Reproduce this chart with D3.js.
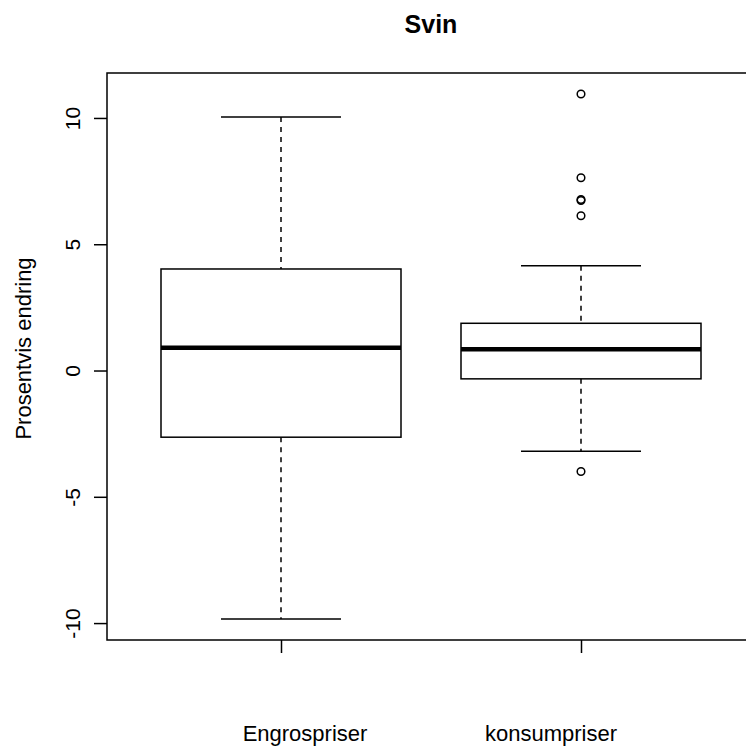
<!DOCTYPE html>
<html>
<head>
<meta charset="utf-8">
<script src="https://cdn.jsdelivr.net/npm/d3@7"></script>
<style>
  body { margin: 0; background: #fff; }
  svg { font-family: "Liberation Sans", Arial, sans-serif; }
</style>
</head>
<body>
<div id="chart"></div>
<script>
// data
const categories = ["Engrospriser", "konsumpriser"];
const whiskerLow = [-9.84, -3.2];
const q1 = [-2.64, -0.33];
const medians = [0.9, 0.84];
const q3 = [4.02, 1.87];
const whiskerHigh = [10.04, 4.15];
const outliers = [[], [10.95, 7.63, 6.73, 6.77, 6.13, -4.0]];
const yTicks = [-10, -5, 0, 5, 10];
const labelPos = [1.08, 1.9];   // where the category names sit

const width = 746, height = 749;

const svg = d3.select("#chart").append("svg")
    .attr("width", width)
    .attr("height", height);

svg.append("rect").attr("width", width).attr("height", height).attr("fill", "#fff");

// escalas
const x = d3.scaleLinear([0.42, 2.58], [107, 755]);
const y = d3.scaleLinear([-10.67, 11.78], [640, 73]);

// marco del plot
svg.append("rect")
    .attr("x", x(0.42)).attr("y", y(11.78))
    .attr("width", x(2.58) - x(0.42)).attr("height", y(-10.67) - y(11.78))
    .attr("fill", "none").attr("stroke", "#000").attr("stroke-width", 1.5);

// eje y
const gy = svg.append("g")
    .attr("transform", `translate(${x(0.42)},0)`)
    .call(d3.axisLeft(y).tickValues(yTicks).tickSize(13).tickSizeOuter(0)
        .tickFormat(d => String(d)));
gy.select(".domain").remove();
gy.selectAll("line").attr("stroke-width", 1.5);
gy.selectAll("text")
    .attr("transform", "rotate(-90)")
    .attr("x", 0).attr("y", -27).attr("dy", 0)
    .attr("text-anchor", "middle")
    .attr("font-size", 21).attr("font-family", null).attr("fill", "#000");

// eje x, solo marcas
const gx = svg.append("g")
    .attr("transform", `translate(0,${y(-10.67)})`)
    .call(d3.axisBottom(x).tickValues([1, 2]).tickSize(13).tickSizeOuter(0).tickFormat(""));
gx.select(".domain").remove();
gx.selectAll("line").attr("stroke-width", 1.5);

// etiquetas de categoría
svg.selectAll(".cat")
    .data(categories)
    .enter().append("text")
    .attr("class", "cat")
    .attr("x", (d, i) => x(labelPos[i]))
    .attr("y", 741)
    .attr("text-anchor", "middle")
    .attr("font-size", 22)
    .text(d => d);

// cajas
const boxes = svg.selectAll(".box")
    .data(categories.map((c, i) => ({ c, i, lo: whiskerLow[i], q1: q1[i], med: medians[i], q3: q3[i], hi: whiskerHigh[i] })))
    .enter().append("g")
    .attr("class", "box");

const hw = 0.4, cw = 0.2;

// bigotes discontinuos
boxes.append("line")
    .attr("x1", d => x(d.i + 1)).attr("x2", d => x(d.i + 1))
    .attr("y1", d => y(d.hi)).attr("y2", d => y(d.q3))
    .attr("stroke", "#000").attr("stroke-width", 1.5).attr("stroke-dasharray", "5,5");
boxes.append("line")
    .attr("x1", d => x(d.i + 1)).attr("x2", d => x(d.i + 1))
    .attr("y1", d => y(d.q1)).attr("y2", d => y(d.lo))
    .attr("stroke", "#000").attr("stroke-width", 1.5).attr("stroke-dasharray", "5,5");
// topes
boxes.append("line")
    .attr("x1", d => x(d.i + 1 - cw)).attr("x2", d => x(d.i + 1 + cw))
    .attr("y1", d => y(d.hi)).attr("y2", d => y(d.hi))
    .attr("stroke", "#000").attr("stroke-width", 1.5);
boxes.append("line")
    .attr("x1", d => x(d.i + 1 - cw)).attr("x2", d => x(d.i + 1 + cw))
    .attr("y1", d => y(d.lo)).attr("y2", d => y(d.lo))
    .attr("stroke", "#000").attr("stroke-width", 1.5);
// caja
boxes.append("rect")
    .attr("x", d => x(d.i + 1 - hw))
    .attr("width", d => x(d.i + 1 + hw) - x(d.i + 1 - hw))
    .attr("y", d => y(d.q3))
    .attr("height", d => y(d.q1) - y(d.q3))
    .attr("fill", "none").attr("stroke", "#000").attr("stroke-width", 1.5);
// mediana
boxes.append("line")
    .attr("x1", d => x(d.i + 1 - hw)).attr("x2", d => x(d.i + 1 + hw))
    .attr("y1", d => y(d.med)).attr("y2", d => y(d.med))
    .attr("stroke", "#000").attr("stroke-width", 4.5);

// atípicos
const pts = [];
outliers.forEach((arr, i) => arr.forEach(v => pts.push({ i, v })));
svg.selectAll(".out")
    .data(pts)
    .enter().append("circle")
    .attr("class", "out")
    .attr("cx", d => x(d.i + 1))
    .attr("cy", d => y(d.v))
    .attr("r", 3.8)
    .attr("fill", "none").attr("stroke", "#000").attr("stroke-width", 1.5);

// titulo
svg.append("text")
    .attr("x", x(1.5))
    .attr("y", 33)
    .attr("text-anchor", "middle")
    .attr("font-size", 25)
    .attr("font-weight", "bold")
    .text("Svin");

// titulo eje y
svg.append("text")
    .attr("transform", `translate(31,${(y(11.78) + y(-10.67)) / 2 - 8}) rotate(-90)`)
    .attr("text-anchor", "middle")
    .attr("font-size", 22)
    .text("Prosentvis endring");
</script>
</body>
</html>
